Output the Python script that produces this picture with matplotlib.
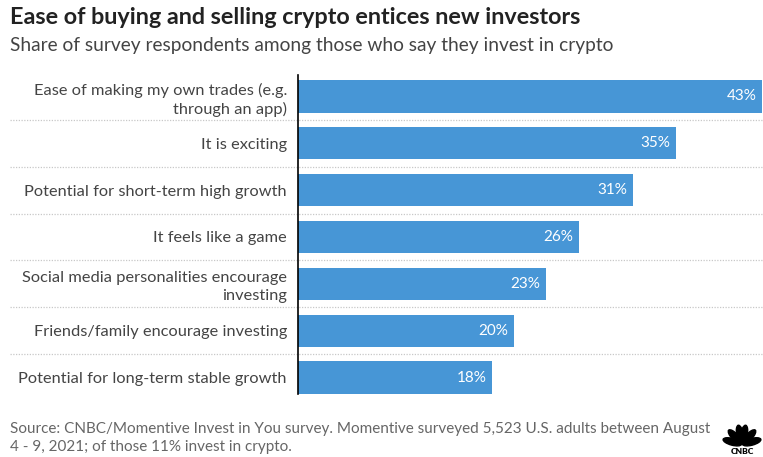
import math
import matplotlib
matplotlib.use("Agg")
import matplotlib.pyplot as plt
from matplotlib.patches import Ellipse

plt.rcParams['font.family'] = ['Lato', 'DejaVu Sans']

categories = [
    "Ease of making my own trades (e.g.\nthrough an app)",
    "It is exciting",
    "Potential for short-term high growth",
    "It feels like a game",
    "Social media personalities encourage\ninvesting",
    "Friends/family encourage investing",
    "Potential for long-term stable growth",
]
values = [43, 35, 31, 26, 23, 20, 18]
value_labels = ["43%", "35%", "31%", "26%", "23%", "20%", "18%"]

title = "Ease of buying and selling crypto entices new investors"
subtitle = "Share of survey respondents among those who say they invest in crypto"
source = ("Source: CNBC/Momentive Invest in You survey. Momentive surveyed 5,523 U.S. adults between August\n"
          "4 - 9, 2021; of those 11% invest in crypto.")

BAR = "#4796d6"
TEXT = "#444444"
W, H = 763, 457
PX_PER_PCT = 10.8

fig = plt.figure(figsize=(W / 100, H / 100), dpi=100)

# axes region in pixel coordinates
left_px, right_px = 298, 763
top_px, bottom_px = 73, 401
ax = fig.add_axes([left_px / W, 1 - bottom_px / H,
                   (right_px - left_px) / W, (bottom_px - top_px) / H])

n = len(categories)
ypos = list(range(n))
ax.barh(ypos, values, height=0.69, color=BAR, zorder=3)
ax.set_ylim(n - 0.5, -0.5)
ax.set_xlim(0, (right_px - left_px) / PX_PER_PCT)

for y, v, lab in zip(ypos, values, value_labels):
    ax.text(v - 0.55, y, lab, ha="right", va="center", color="white",
            fontsize=11, zorder=4)

for s in ["top", "right", "bottom"]:
    ax.spines[s].set_visible(False)
ax.spines["left"].set_color("black")
ax.spines["left"].set_linewidth(1.2)
ax.spines["left"].set_bounds(-0.45, n - 1 + 0.345)
ax.spines["left"].set_zorder(5)
ax.set_xticks([])
ax.set_yticks(ypos)
ax.set_yticklabels(categories, fontsize=11.8, color=TEXT, linespacing=1.3)
ax.tick_params(axis="y", length=0, pad=8)

# dotted separators between rows, spanning label column and plot area
for k in range(n - 1):
    yb = k + 0.5
    ax.plot([-(left_px - 10) / PX_PER_PCT, ax.get_xlim()[1]], [yb, yb],
            color="#c8c8c8", lw=0.9, ls=(0, (1, 1.2)), zorder=1, clip_on=False)

fig.text(10 / W, 1 - 17 / H, title, fontsize=16.8, fontweight="bold",
         color="#222222", va="center", ha="left")
fig.text(10 / W, 1 - 46 / H, subtitle, fontsize=13.8, color=TEXT,
         va="center", ha="left")
fig.text(10 / W, 1 - 438 / H, source, fontsize=11, color="#666666",
         va="center", ha="left", linespacing=1.4)

# small peacock mark in the corner
lax = fig.add_axes([722 / W, 1 - 456 / H, 40 / W, 40 / H])
lax.set_xlim(-1, 1)
lax.set_ylim(-1, 1)
lax.set_aspect("equal")
lax.axis("off")
cx, cy = 0, -0.42
for ang in [165, 133, 101, 79, 47, 15]:
    r = 0.5
    ex = cx + r * math.cos(math.radians(ang))
    ey = cy + r * math.sin(math.radians(ang))
    lax.add_patch(Ellipse((ex, ey), 0.34, 0.95, angle=ang - 90, color="black"))
lax.text(0, -0.78, "CNBC", ha="center", va="center", fontsize=6,
         fontweight="heavy", color="black")

fig.savefig("out.png", dpi=100, facecolor="white")
